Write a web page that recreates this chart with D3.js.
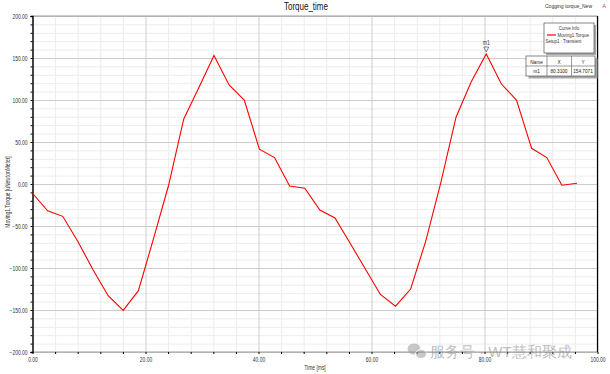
<!DOCTYPE html>
<html><head><meta charset="utf-8">
<script src="https://cdn.jsdelivr.net/npm/d3@7"></script>
<style>
html,body{margin:0;padding:0;background:#fff;}
svg text{font-family:"Liberation Sans Narrow","Liberation Sans",Arial,sans-serif;}
</style></head>
<body><svg id="c" width="610" height="374"></svg>
<script>
const timeMs = [0, 2.68, 5.35, 8.03, 10.71, 13.39, 16.06, 18.74, 21.42, 24.09, 26.77, 29.45, 32.12, 34.80, 37.48, 40.16, 42.83, 45.51, 48.19, 50.86, 53.54, 56.22, 58.89, 61.57, 64.25, 66.93, 69.60, 72.28, 74.96, 77.63, 80.31, 82.99, 85.66, 88.34, 91.02, 93.69, 96.37];
const torque = [-11, -32, -38.5, -68.5, -102, -133, -150.5, -127, -65, -1.5, 77.5, 115, 153, 118, 100, 41.5, 31.5, -2.5, -5, -31, -40.5, -70.5, -101, -131.5, -145.5, -125, -68, 2, 79.5, 121.5, 154.7071, 119, 100, 42.5, 31.5, -1.5, 0.8];
const xMajorTicks = [0, 20, 40, 60, 80, 100];
const xMinorTicks = [4, 8, 12, 16, 24, 28, 32, 36, 44, 48, 52, 56, 64, 68, 72, 76, 84, 88, 92, 96];
const yMajorTicks = [-200, -150, -100, -50, 0, 50, 100, 150, 200];
const yMinorTicks = [-190,-180,-170,-160,-140,-130,-120,-110,-90,-80,-70,-60,-40,-30,-20,-10,10,20,30,40,60,70,80,90,110,120,130,140,160,170,180,190];
const markerName = "m1", markerX = 80.31, markerY = 154.7071;

const svg = d3.select("#c");
const x = d3.scaleLinear().domain([0, 100]).range([32.5, 597.5]);
const y = d3.scaleLinear().domain([-200, 200]).range([352, 16]);
const fmt = d3.format(".2f");

svg.append("rect").attr("width", 610).attr("height", 374).attr("fill", "#fff");

// minor grid
svg.append("g").attr("transform", "translate(0,16)")
  .call(d3.axisBottom(x).tickValues(xMinorTicks).tickSize(336).tickFormat(""))
  .call(g => g.select(".domain").remove())
  .call(g => g.selectAll("line").attr("stroke", "#ececec"));
svg.append("g").attr("transform", "translate(32.5,0)")
  .call(d3.axisRight(y).tickValues(yMinorTicks).tickSize(565).tickFormat(""))
  .call(g => g.select(".domain").remove())
  .call(g => g.selectAll("line").attr("stroke", "#ececec"));
// major grid
svg.append("g").attr("transform", "translate(0,16)")
  .call(d3.axisBottom(x).tickValues(xMajorTicks).tickSize(336).tickFormat(""))
  .call(g => g.select(".domain").remove())
  .call(g => g.selectAll("line").attr("stroke", "#cdcdcd"));
svg.append("g").attr("transform", "translate(32.5,0)")
  .call(d3.axisRight(y).tickValues(yMajorTicks).tickSize(565).tickFormat(""))
  .call(g => g.select(".domain").remove())
  .call(g => g.selectAll("line").attr("stroke", "#cdcdcd"));

// frame
svg.append("line").attr("x1", x(0)).attr("x2", x(100)).attr("y1", y(200)).attr("y2", y(200)).attr("stroke", "#9a9a9a");
svg.append("line").attr("x1", x(0)).attr("x2", x(100)).attr("y1", y(-200)).attr("y2", y(-200)).attr("stroke", "#9a9a9a");
svg.append("line").attr("x1", x(100)).attr("x2", x(100)).attr("y1", y(200)).attr("y2", y(-200)).attr("stroke", "#000").attr("stroke-width", 1.2);

// axes
const yAx = svg.append("g").attr("transform", "translate(32.5,0)")
  .call(d3.axisLeft(y).tickValues(yMajorTicks).tickSize(2).tickFormat(fmt));
yAx.select(".domain").attr("stroke", "#000").attr("stroke-width", 1.4);
yAx.selectAll("text").attr("font-size", 6.5).attr("fill", "#333").attr("x", -5).classed("nar", true);
svg.append("g").attr("transform", "translate(32.5,0)")
  .call(d3.axisLeft(y).tickValues(yMinorTicks).tickSize(2).tickFormat(""))
  .call(g => g.select(".domain").remove());

const xAx = svg.append("g").attr("transform", "translate(0,352)")
  .call(d3.axisBottom(x).tickValues(xMajorTicks).tickSize(2).tickFormat(fmt));
xAx.select(".domain").remove();
xAx.selectAll("text").attr("font-size", 6.5).attr("fill", "#333").attr("y", 5).classed("nar", true);
svg.append("g").attr("transform", "translate(0,352)")
  .call(d3.axisBottom(x).tickValues(xMinorTicks).tickSize(2).tickFormat(""))
  .call(g => g.select(".domain").remove());

// axis titles
svg.append("text").attr("class", "nar").attr("x", 315).attr("y", 370).attr("text-anchor", "middle")
  .attr("font-size", 6.5).attr("fill", "#333").text("Time [ms]");
svg.append("text").attr("class", "nar").attr("transform", "translate(10,192) rotate(-90)").attr("text-anchor", "middle")
  .attr("font-size", 6.5).attr("fill", "#333").text("Moving1.Torque [uNewtonMeter]");

// title
svg.append("text").attr("class", "nar").attr("x", 306).attr("y", 10).attr("text-anchor", "middle")
  .attr("font-size", 10.5).attr("fill", "#111").text("Torque_time");
svg.append("text").attr("x", 545).attr("y", 8).attr("font-size", 5.4).attr("fill", "#333")
  .attr("textLength", 47).attr("lengthAdjust", "spacingAndGlyphs").text("Cogging torque_New");
svg.append("text").attr("x", 602.5).attr("y", 8).attr("font-size", 5.5).attr("fill", "#c44").text("A");

// curve
const line = d3.line().x((d, i) => x(timeMs[i])).y(d => y(d));
svg.append("path").datum(torque).attr("d", line).attr("fill", "none")
  .attr("stroke", "#ff0000").attr("stroke-width", 1.1);

// marker
const mx = x(markerX), my = y(markerY);
svg.append("path").attr("d", `M${mx-2.5},${my-7}L${mx+2.5},${my-7}L${mx},${my-2}Z`)
  .attr("fill", "none").attr("stroke", "#555").attr("stroke-width", 0.7);
svg.append("text").attr("class", "nar").attr("x", mx).attr("y", my - 9).attr("text-anchor", "middle")
  .attr("font-size", 6.5).attr("fill", "#333").text(markerName);

// curve info legend
const lg = svg.append("g").attr("transform", "translate(544,23)");
lg.append("rect").attr("x", 2).attr("y", 2).attr("width", 50).attr("height", 30).attr("fill", "#a8a8a8");
lg.append("rect").attr("width", 50).attr("height", 30).attr("fill", "#fff").attr("stroke", "#555").attr("stroke-width", 0.7);
lg.append("text").attr("class", "nar").attr("x", 25).attr("y", 7).attr("text-anchor", "middle").attr("font-size", 5.8).attr("fill", "#333").text("Curve Info");
lg.append("line").attr("x1", 3).attr("x2", 12).attr("y1", 12).attr("y2", 12).attr("stroke", "#ff0000").attr("stroke-width", 1.2);
lg.append("text").attr("class", "nar").attr("x", 13.5).attr("y", 14).attr("font-size", 5.8).attr("fill", "#333").text("Moving1.Torque");
lg.append("text").attr("class", "nar").attr("x", 1.5).attr("y", 20).attr("font-size", 5.8).attr("fill", "#333").text("Setup1 : Transient");

// marker table
const tb = svg.append("g").attr("transform", "translate(526,56)");
tb.append("rect").attr("x", 2.5).attr("y", 2.5).attr("width", 69).attr("height", 20).attr("fill", "#a8a8a8");
tb.append("rect").attr("width", 69).attr("height", 20).attr("fill", "#fff").attr("stroke", "#555").attr("stroke-width", 0.7);
tb.append("line").attr("x1", 0).attr("x2", 69).attr("y1", 10).attr("y2", 10).attr("stroke", "#555").attr("stroke-width", 0.6);
tb.append("line").attr("x1", 21).attr("x2", 21).attr("y1", 0).attr("y2", 20).attr("stroke", "#555").attr("stroke-width", 0.6);
tb.append("line").attr("x1", 45.5).attr("x2", 45.5).attr("y1", 0).attr("y2", 20).attr("stroke", "#555").attr("stroke-width", 0.6);
const cells = [["Name", 10.5, 7.5], ["X", 33, 7.5], ["Y", 57, 7.5], [markerName, 10.5, 17], [d3.format(".4f")(markerX), 33, 17], [d3.format(".4f")(markerY), 57, 17]];
cells.forEach(c => tb.append("text").attr("class", "nar").attr("x", c[1]).attr("y", c[2]).attr("text-anchor", "middle")
  .attr("font-size", 6.2).attr("fill", "#222").text(c[0]));

// condense texts (narrow font look)
svg.selectAll("text.nar").each(function() {
  const w = this.getComputedTextLength();
  if (w > 0) d3.select(this).attr("textLength", w * 0.76).attr("lengthAdjust", "spacingAndGlyphs");
});

// watermark
const wm = svg.append("g").attr("opacity", 0.55);
wm.append("ellipse").attr("cx", 414).attr("cy", 349).attr("rx", 6.5).attr("ry", 5.5).attr("fill", "#9a9a9a");
wm.append("ellipse").attr("cx", 421).attr("cy", 354).attr("rx", 5.5).attr("ry", 4.5).attr("fill", "#9a9a9a").attr("stroke", "#fff").attr("stroke-width", 1);
wm.append("text").attr("x", 430).attr("y", 357).attr("font-family", "'Noto Sans CJK SC','Noto Sans',sans-serif")
  .attr("font-size", 15).attr("fill", "#8a8a8a").text("服务号 · WT慧和聚成");
</script></body></html>
